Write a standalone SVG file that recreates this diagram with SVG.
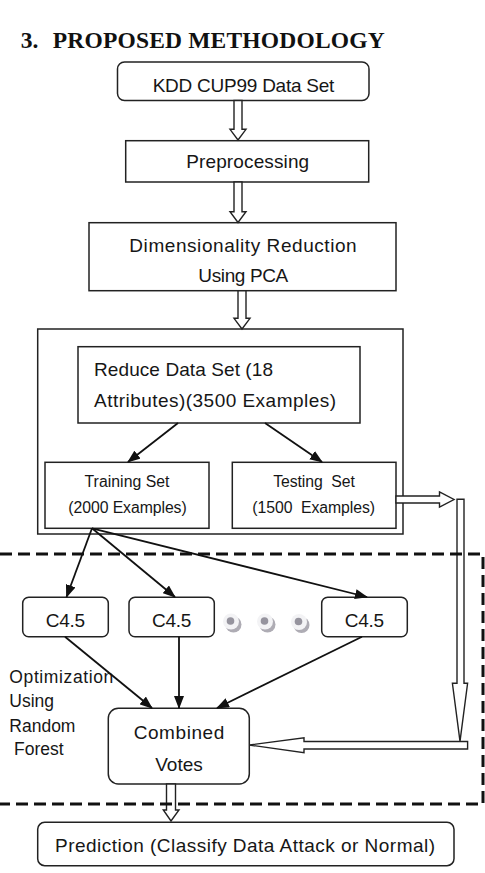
<svg xmlns="http://www.w3.org/2000/svg" width="485" height="873" viewBox="0 0 485 873">
<style>
.box{fill:#fff;stroke:#222;stroke-width:1.5}
.blk{fill:#fff;stroke:#222;stroke-width:1.4;stroke-linejoin:miter}
.t{font-family:"Liberation Sans",Arial,sans-serif;font-size:19px;fill:#161616}
.s{font-size:15.8px}
.o{font-size:17.5px}
.m{text-anchor:middle}
.ln{stroke:#111;stroke-width:1.8;fill:none;marker-end:url(#ah)}
.dash{stroke:#111;stroke-width:3;fill:none;stroke-dasharray:12 6}
.title{font-family:"Liberation Serif","Times New Roman",serif;font-weight:bold;font-size:23.5px;fill:#111}
</style>
<defs>
<marker id="ah" markerUnits="userSpaceOnUse" markerWidth="13" markerHeight="10" refX="12" refY="5" orient="auto">
<path d="M0,0 L13,5 L0,10 Z" fill="#111"/>
</marker>
</defs>
<rect width="485" height="873" fill="#fff"/>
<g id="title">
<text class="title" x="20.7" y="47.7">3.</text>
<text class="title" x="52.7" y="47.7" textLength="332" lengthAdjust="spacing">PROPOSED METHODOLOGY</text>
</g>
<g id="container"><rect class="box" x="37.7" y="329" width="365.3" height="205"/></g>
<g id="kdd"><rect class="box" x="117.5" y="62" width="251.5" height="38.5" rx="7"/>
<text class="t m" x="243.5" y="92.3" textLength="181.7" lengthAdjust="spacing">KDD CUP99 Data Set</text></g>
<g id="preprocessing"><rect class="box" x="125.7" y="140.7" width="243" height="41.3"/>
<text class="t m" x="247.7" y="168" textLength="123" lengthAdjust="spacing">Preprocessing</text></g>
<g id="pca"><rect class="box" x="89" y="222.7" width="307" height="68"/>
<text class="t m" x="243" y="251.7" textLength="227.4" lengthAdjust="spacing">Dimensionality Reduction</text>
<text class="t m" x="243.3" y="281.7" textLength="90" lengthAdjust="spacing">Using PCA</text></g>
<g id="reduced"><rect class="box" x="78" y="346.7" width="282" height="76.3"/>
<text class="t" x="94" y="376" textLength="179" lengthAdjust="spacing">Reduce Data Set (18</text>
<text class="t" x="94" y="406.7" textLength="242" lengthAdjust="spacing">Attributes)(3500 Examples)</text></g>
<g id="training"><rect class="box" x="45" y="462.3" width="164" height="66"/>
<text class="t s m" x="127" y="487" textLength="85" lengthAdjust="spacing">Training Set</text>
<text class="t s m" x="127.5" y="512.7" textLength="118.4" lengthAdjust="spacing">(2000 Examples)</text></g>
<g id="testing"><rect class="box" x="232.3" y="462.3" width="163.7" height="66"/>
<text class="t s m" x="314" y="487" textLength="81.7" lengthAdjust="spacing" xml:space="preserve">Testing  Set</text>
<text class="t s m" x="313.7" y="512.7" textLength="122.7" lengthAdjust="spacing" xml:space="preserve">(1500  Examples)</text></g>
<g id="c45a"><rect class="box" x="22.7" y="597.3" width="85.6" height="39.4" rx="6"/>
<text class="t m" x="65.5" y="627.3" textLength="39.3" lengthAdjust="spacing">C4.5</text></g>
<g id="c45b"><rect class="box" x="129" y="597.3" width="85.3" height="39.4" rx="6"/>
<text class="t m" x="171.7" y="627.3" textLength="39.3" lengthAdjust="spacing">C4.5</text></g>
<g id="c45c"><rect class="box" x="321.7" y="597.3" width="85.6" height="39.4" rx="6"/>
<text class="t m" x="364.5" y="627.3" textLength="39.3" lengthAdjust="spacing">C4.5</text></g>
<g id="dots">
<circle cx="233.5" cy="624.5" r="8" fill="#aeacb4"/><circle cx="231" cy="621.5" r="8" fill="#f3f3f5"/><circle cx="230.5" cy="621" r="3.8" fill="#96949e"/>
<circle cx="267.5" cy="624.5" r="8" fill="#aeacb4"/><circle cx="265" cy="621.5" r="8" fill="#f3f3f5"/><circle cx="264.5" cy="621" r="3.8" fill="#96949e"/>
<circle cx="301.5" cy="625" r="8" fill="#aeacb4"/><circle cx="299" cy="622" r="8" fill="#f3f3f5"/><circle cx="298.5" cy="621.5" r="3.8" fill="#96949e"/>
</g>
<g id="optlabel">
<text class="t o" x="9.3" y="683.3" textLength="104" lengthAdjust="spacing">Optimization</text>
<text class="t o" x="9.3" y="706.7">Using</text>
<text class="t o" x="9.3" y="731.7">Random</text>
<text class="t o" x="14" y="755">Forest</text>
</g>
<g id="combined"><rect class="box" x="108.3" y="708.3" width="141" height="75.7" rx="10"/>
<text class="t m" x="179" y="739.3" textLength="90.7" lengthAdjust="spacing">Combined</text>
<text class="t m" x="179" y="770.7">Votes</text></g>
<g id="prediction"><rect class="box" x="37.7" y="822.3" width="416.3" height="43.4" rx="7"/>
<text class="t m" x="245" y="851.7" textLength="380" lengthAdjust="spacing">Prediction (Classify Data Attack or Normal)</text></g>
<g id="connectors">
<polygon class="blk" points="234,100.5 242,100.5 242,129.3 246,129.3 238,140 230,129.3 234,129.3"/>
<polygon class="blk" points="234,182 242,182 242,211.7 246,211.7 238,222.5 230,211.7 234,211.7"/>
<polygon class="blk" points="238,290.7 246,290.7 246,318.3 250,318.3 242,329 234,318.3 238,318.3"/>
<polygon class="blk" points="396,496 439.5,496 439.5,492 454,499.5 439.5,507 439.5,503 396,503"/>
<polygon class="blk" points="457,499.3 464,499.3 464,683.3 467.6,683.3 460,741.3 452.4,683.3 457,683.3"/>
<polygon class="blk" points="467.6,741.5 304,741.5 304,737.8 249.3,745 304,752.6 304,749 467.6,749"/>
<polygon class="blk" points="166.5,784 175.5,784 175.5,810 179,810 171,821 163.3,810 166.5,810"/>
<line class="ln" x1="178" y1="423" x2="128" y2="462"/>
<line class="ln" x1="265" y1="423" x2="322" y2="462"/>
<line class="ln" x1="92" y1="528.3" x2="66.5" y2="597"/>
<line class="ln" x1="92" y1="528.3" x2="175" y2="597"/>
<line class="ln" x1="92" y1="528.3" x2="367" y2="597"/>
<line class="ln" x1="65" y1="636.7" x2="152" y2="708"/>
<line class="ln" x1="179" y1="636.7" x2="179" y2="708"/>
<line class="ln" x1="362" y1="636.7" x2="217" y2="708"/>
<polyline class="dash" points="0,554 483,554 483,804 0,804"/>
</g>
</svg>
